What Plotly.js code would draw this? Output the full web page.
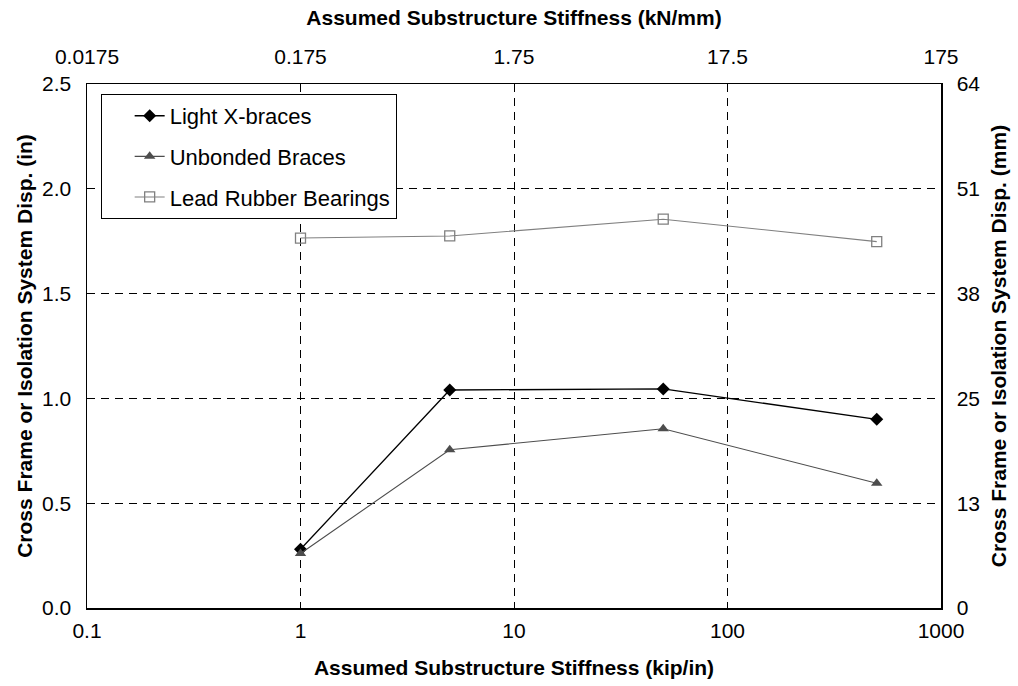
<!DOCTYPE html>
<html>
<head>
<meta charset="utf-8">
<script src="https://cdn.plot.ly/plotly-3.0.1.min.js"></script>
<style>html,body{margin:0;padding:0;background:#fff;}#chart{width:1018px;height:686px;}</style>
</head>
<body>
<div id="chart"></div>
<script>
// Data (x in kip/in, y in inches)
const stiffness = [1, 5, 50, 500];
const lightXBraces = [0.28, 1.04, 1.045, 0.90];
const unbondedBraces = [0.26, 0.755, 0.855, 0.595];
const leadRubberBearings = [1.765, 1.775, 1.855, 1.748];

// Tick labels
const bottomTicks = [0.1, 1, 10, 100, 1000];
const bottomTickText = ['0.1', '1', '10', '100', '1000'];
const topTickText = ['0.0175', '0.175', '1.75', '17.5', '175'];
const leftTicks = [0, 0.5, 1.0, 1.5, 2.0, 2.5];
const leftTickText = ['0.0', '0.5', '1.0', '1.5', '2.0', '2.5'];
const rightTickText = ['0', '13', '25', '38', '51', '64'];

const KIP_IN_TO_KN_MM = 0.175;
const IN_TO_MM = 25.4;

const FONT = 'Liberation Sans, Arial, sans-serif';
const FS = 21;

const traces = [
  {
    x: stiffness, y: lightXBraces, name: 'Light X-braces', type: 'scatter', mode: 'lines+markers',
    line: {color: '#000000', width: 1.3},
    marker: {symbol: 'diamond', size: 10, color: '#000000'},
    legendgroup: 'a'
  },
  {
    x: stiffness, y: unbondedBraces, name: 'Unbonded Braces', type: 'scatter', mode: 'lines+markers',
    line: {color: '#4d4d4d', width: 1.1},
    marker: {symbol: 'triangle-up', size: 10, color: '#4d4d4d'},
    legendgroup: 'b'
  },
  {
    x: stiffness, y: leadRubberBearings, name: 'Lead Rubber Bearings', type: 'scatter', mode: 'lines+markers',
    line: {color: '#808080', width: 1.1},
    marker: {symbol: 'square-open', size: 10, color: '#808080', line: {width: 1.3}},
    legendgroup: 'c'
  },
  // Invisible companion trace so the secondary (metric) axes are drawn
  {
    x: stiffness.map(v => v * KIP_IN_TO_KN_MM), y: lightXBraces.map(v => v * IN_TO_MM),
    xaxis: 'x2', yaxis: 'y2', type: 'scatter', mode: 'markers',
    marker: {opacity: 0}, showlegend: false, hoverinfo: 'skip'
  }
];

const layout = {
  width: 1018, height: 686,
  margin: {l: 87, r: 77, t: 84, b: 78},
  paper_bgcolor: '#ffffff', plot_bgcolor: '#ffffff',
  font: {family: FONT, size: FS, color: '#000000'},
  showlegend: true,
  legend: {
    x: 0.016, y: 0.981, xanchor: 'left', yanchor: 'top',
    bordercolor: '#000000', borderwidth: 1, bgcolor: '#ffffff',
    font: {family: FONT, size: 22, color: '#000000'},
    traceorder: 'grouped', tracegroupgap: 9, indentation: 28,
    entrywidth: 285, entrywidthmode: 'pixels'
  },
  xaxis: {
    type: 'log', range: [Math.log10(bottomTicks[0]), Math.log10(bottomTicks[bottomTicks.length - 1])],
    tickmode: 'array', tickvals: bottomTicks, ticktext: bottomTickText,
    showgrid: true, gridcolor: '#000000', gridwidth: 1, griddash: '8px,6px',
    showline: true, linecolor: '#000000', linewidth: 1.5,
    ticks: '', ticklabelstandoff: 3,
    tickfont: {family: FONT, size: FS},
    title: {text: 'Assumed Substructure Stiffness (kip/in)', font: {family: FONT, size: FS, weight: 'bold'}, standoff: 19},
    zeroline: false
  },
  xaxis2: {
    type: 'log', overlaying: 'x', side: 'top', anchor: 'y',
    range: [Math.log10(bottomTicks[0] * KIP_IN_TO_KN_MM), Math.log10(bottomTicks[bottomTicks.length - 1] * KIP_IN_TO_KN_MM)],
    tickmode: 'array', tickvals: bottomTicks.map(v => v * KIP_IN_TO_KN_MM), ticktext: topTickText,
    showgrid: false, showline: true, linecolor: '#000000', linewidth: 1.5,
    ticks: '', ticklabelstandoff: 10,
    tickfont: {family: FONT, size: FS},
    title: {text: 'Assumed Substructure Stiffness (kN/mm)', font: {family: FONT, size: FS, weight: 'bold'}, standoff: 13},
    zeroline: false
  },
  yaxis: {
    range: [leftTicks[0], leftTicks[leftTicks.length - 1]],
    tickmode: 'array', tickvals: leftTicks, ticktext: leftTickText,
    showgrid: true, gridcolor: '#000000', gridwidth: 1, griddash: '8px,6px',
    showline: true, linecolor: '#000000', linewidth: 1.5,
    ticks: '', ticklabelstandoff: 10,
    tickfont: {family: FONT, size: FS},
    title: {text: 'Cross Frame or Isolation System Disp. (in)', font: {family: FONT, size: FS, weight: 'bold'}, standoff: 3},
    zeroline: false
  },
  yaxis2: {
    overlaying: 'y', side: 'right', anchor: 'x',
    range: [leftTicks[0] * IN_TO_MM, leftTicks[leftTicks.length - 1] * IN_TO_MM],
    tickmode: 'array', tickvals: leftTicks.map(v => v * IN_TO_MM), ticktext: rightTickText,
    showgrid: false, showline: true, linecolor: '#000000', linewidth: 1.5,
    ticks: '', ticklabelstandoff: 10,
    tickfont: {family: FONT, size: FS},
    title: {text: 'Cross Frame or Isolation System Disp. (mm)', font: {family: FONT, size: FS, weight: 'bold'}, standoff: 12},
    zeroline: false
  }
};

Plotly.newPlot('chart', traces, layout, {displayModeBar: false, staticPlot: true});
</script>
</body>
</html>
